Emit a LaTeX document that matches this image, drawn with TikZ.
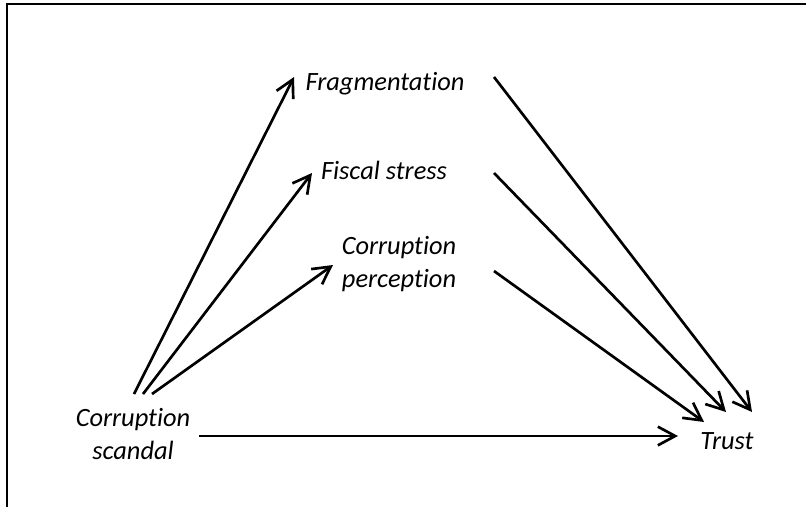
\documentclass[tikz,border=0pt]{standalone}
\usepackage{fontspec}
\setmainfont{Carlito}[Ligatures=NoCommon]
\usetikzlibrary{arrows.meta}
\tikzset{
  lbl/.style={font=\itshape\fontsize{19.8}{25}\selectfont, inner sep=0pt, align=center},
  arr/.style={line width=2pt, -{Straight Barb[length=13pt,width=14pt,line width=2pt]}},
  frame/.style={line width=1.4pt}
}
\begin{document}
\begin{tikzpicture}[x=0.75pt,y=-0.75pt]
\useasboundingbox (0,0) rectangle (806,507);
\draw[frame] (7,507) -- (7,4) -- (806,4);
\node[lbl] (frag) at (385,84) {Fragmentation};
\node[lbl] (fisc) at (384,170) {Fiscal stress};
\node[lbl] (perc) at (399,264) {Corruption\\perception};
\node[lbl] (scan) at (133,434) {Corruption\\scandal};
\node[lbl] (trust) at (727,441) {Trust};
% arrow end points
\coordinate (s1) at (134,394);
\coordinate (s2) at (143,394);
\coordinate (s3) at (152,394);
\coordinate (s4) at (199,436);
\coordinate (f1) at (294,77);
\coordinate (f2) at (312,173);
\coordinate (f3) at (333,265);
\coordinate (o1) at (494,77);
\coordinate (o2) at (494,173);
\coordinate (o3) at (494,271);
\coordinate (t1) at (752,412);
\coordinate (t2) at (726,412);
\coordinate (t3) at (704,422);
\coordinate (t4) at (678,436);
\draw[arr] (s1) -- (f1);
\draw[arr] (s2) -- (f2);
\draw[arr] (s3) -- (f3);
\draw[arr] (s4) -- (t4);
\draw[arr] (o1) -- (t1);
\draw[arr] (o2) -- (t2);
\draw[arr] (o3) -- (t3);
\end{tikzpicture}
\end{document}
